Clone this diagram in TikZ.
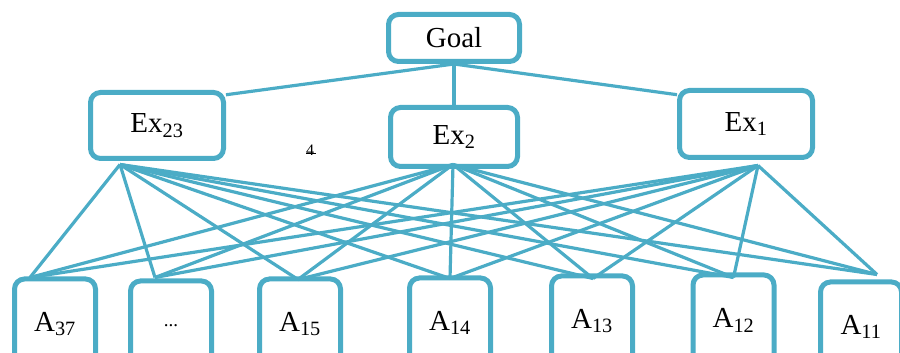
\documentclass[tikz,border=0pt]{standalone}
\usepackage{fontspec}
\setmainfont{Liberation Serif}
\usepackage{tikz}
\newcommand{\leafwidth}{81pt}
\newcommand{\leafheight}{90pt}
\definecolor{myTeal}{RGB}{75,172,198}
\usetikzlibrary{calc}
\tikzset{
  font=\fontsize{29}{32}\selectfont,
  rect/.style={draw=myTeal,fill=white,shape=rectangle,line width=5pt,rounded corners=10pt,inner sep=0pt},
  leaf/.style={rect,minimum width=\leafwidth,minimum height=\leafheight},
  line/.style={draw=myTeal,line width=3.2pt},
}

\begin{document}
\begin{tikzpicture}[x=1pt,y=1pt]
  \clip (0,0) rectangle (900,353);
  % top
  \node (goal) [rect,minimum width=131pt,minimum height=47pt] at (454,315) {Goal};
  % criteria
  \node (ex23) [rect,minimum width=133pt,minimum height=66pt] at (157,227.5) {Ex\textsubscript{23}};
  \node (ex2)  [rect,minimum width=127pt,minimum height=59pt] at (454,216) {Ex\textsubscript{2}};
  \node (ex1)  [rect,minimum width=133pt,minimum height=67pt] at (746,229) {Ex\textsubscript{1}};
  \node (mark) at (310,203) {\fontsize{16}{16}\selectfont\rlap{\raisebox{0.12ex}{\rule{0.6em}{1.1pt}}}4};
  % alternatives
  \node (a37)   [leaf] at (55,29)    {A\textsubscript{37}};
  \node (adots) [leaf] at (171,27)   {\fontsize{19}{20}\selectfont ...};
  \node (a15)   [leaf] at (300,29)   {A\textsubscript{15}};
  \node (a14)   [leaf] at (450,30)   {A\textsubscript{14}};
  \node (a13)   [leaf] at (592,32)   {A\textsubscript{13}};
  \node (a12)   [leaf] at (733.5,33) {A\textsubscript{12}};
  \node (a11)   [leaf] at (861,26)   {A\textsubscript{11}};
  % anchor points of the links
  \coordinate (ex23b) at ($(ex23.south)+(-37,-3.5)$);
  \coordinate (ex2b)  at ($(ex2.south)+(-1,4.5)$);
  \coordinate (ex1b)  at ($(ex1.south)+(12,-5.5)$);
  \coordinate (a37t)   at ($(a37.north)+(-25,-1)$);
  \coordinate (adotst) at ($(adots.north)+(-16,1)$);
  \coordinate (a15t)   at ($(a15.north)+(-2,-3)$);
  \coordinate (a14t)   at ($(a14.north)+(0,-3)$);
  \coordinate (a13t)   at ($(a13.north)+(1,-5)$);
  \coordinate (a12t)   at ($(a12.north)+(0,-5)$);
  \coordinate (a11t)   at ($(a11.north)+(16,5)$);
  % links
  \path [line] (goal.south) -- (ex23.24);
  \path [line] (goal.south) -- (ex2.north);
  \path [line] (goal.south) -- (ex1.157);
  \foreach \ex in {ex23b,ex2b,ex1b}
    \foreach \alt in {a37t,adotst,a15t,a14t,a13t,a12t,a11t}
      \path [line] (\ex) -- (\alt);
\end{tikzpicture}
\end{document}
